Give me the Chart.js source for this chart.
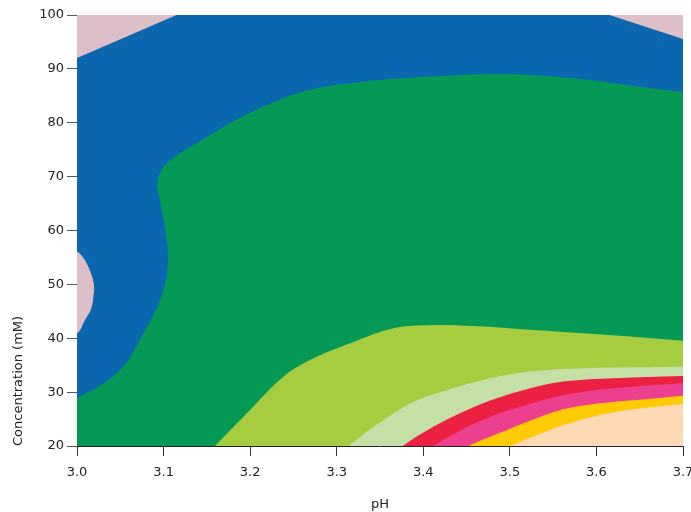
<!DOCTYPE html>
<html><head><meta charset="utf-8">
<script src="https://cdn.jsdelivr.net/npm/chart.js@4.4.1/dist/chart.umd.min.js"></script>
<style>html,body{margin:0;padding:0;background:#fff}#wrap{width:691px;height:512px;position:relative}</style>
</head><body><div id="wrap"><canvas id="c"></canvas></div>
<script>
// axis ticks and titles
const xTicks = [3.0, 3.1, 3.2, 3.3, 3.4, 3.5, 3.6, 3.7];
const xTickLabels = ['3.0', '3.1', '3.2', '3.3', '3.4', '3.5', '3.6', '3.7'];
const yTicks = [20, 30, 40, 50, 60, 70, 80, 90, 100];
const yTickLabels = ['20', '30', '40', '50', '60', '70', '80', '90', '100'];
const xTitle = 'pH';
const yTitle = 'Concentration (mM)';

// contour band boundaries (pH, concentration mM)
const pinkTopPH   = [3.0, 3.7];
const pinkTopConc = [100, 100];

const blueTopPH   = [3.0, 3.115, 3.615, 3.7];
const blueTopConc = [92.0, 100, 100, 95.55];

const pinkBlobPH   = [2.97, 3.0, 3.0058, 3.013, 3.0193, 3.0188, 3.0158, 3.0092, 3.0, 2.97];
const pinkBlobConc = [58.0, 56.07, 55.27, 53.28, 50.2, 47.6, 45.24, 43.39, 40.92, 39.0];

const greenPH   = [2.97, 3.0, 3.0497, 3.0766, 3.0959, 3.1048, 3.1025, 3.0959, 3.0925, 3.0959, 3.1036, 3.119, 3.1383, 3.1767, 3.2152, 3.2653, 3.3307, 3.4193, 3.4964, 3.5733, 3.6504, 3.7, 3.75, 3.75, 2.95, 2.95];
const greenConc = [27.0, 28.85, 34.11, 40.92, 47.10, 53.28, 59.48, 65.66, 68.2, 70.61, 72.47, 74.33, 76.19, 79.90, 82.98, 85.95, 87.62, 88.68, 89.05, 88.25, 86.69, 85.7, 84.7, 10, 10, 26];

const yellowGreenPH   = [3.142, 3.1594, 3.1998, 3.2383, 3.2691, 3.3154, 3.3654, 3.4116, 3.4578, 3.5271, 3.6426, 3.7];
const yellowGreenConc = [17.2, 20, 26.68, 32.86, 35.96, 39.06, 41.85, 42.46, 42.27, 41.53, 40.29, 39.55];

const lightGreenPH   = [3.295, 3.3134, 3.352, 3.39, 3.43, 3.4655, 3.5, 3.535, 3.5657, 3.62, 3.7];
const lightGreenConc = [17.5, 20, 24.6, 28.3, 30.5, 32.1, 33.3, 34.0, 34.3, 34.55, 34.72];

const redPH   = [3.355, 3.3762, 3.41, 3.4462, 3.4848, 3.5271, 3.5637, 3.6195, 3.7];
const redConc = [17.0, 20, 23.45, 26.37, 28.85, 30.85, 32.0, 32.57, 33.0];

const magentaPH   = [3.39, 3.4116, 3.448, 3.4848, 3.5233, 3.5637, 3.6195, 3.7];
const magentaConc = [17.5, 20, 23.3, 25.9, 27.8, 29.5, 30.71, 31.7];

const yellowPH   = [3.43, 3.452, 3.488, 3.5233, 3.5617, 3.6041, 3.65, 3.7];
const yellowConc = [18.0, 20, 22.4, 24.7, 26.8, 27.93, 28.6, 29.34];

const peachPH   = [3.48, 3.501, 3.5233, 3.5464, 3.5617, 3.6041, 3.6426, 3.7];
const peachConc = [18.5, 20, 21.54, 22.97, 23.9, 25.75, 26.81, 27.8];

const FONT = {family: 'DejaVu Sans', size: 13};
const TXT = '#222';

function pts(xs, ys) { return xs.map((x, i) => ({x: x, y: ys[i]})); }
function band(xs, ys, color, order, fill, tension) {
  return {
    type: 'line', data: pts(xs, ys), backgroundColor: color, borderWidth: 0, borderColor: 'rgba(0,0,0,0)',
    pointRadius: 0, pointHoverRadius: 0, fill: fill, order: order,
    tension: tension, cubicInterpolationMode: 'default', capBezierPoints: false
  };
}

const datasets = [
  band(pinkTopPH, pinkTopConc, '#DFBFC7', 10, 'start', 0),
  band(blueTopPH, blueTopConc, '#0A67AF', 9, 'start', 0),
  band(pinkBlobPH, pinkBlobConc, '#DFBFC7', 8, 'shape', 0.4),
  band(greenPH, greenConc, '#059955', 7, 'shape', 0.4),
  band(yellowGreenPH, yellowGreenConc, '#A6CD3F', 6, 'start', 0.35),
  band(lightGreenPH, lightGreenConc, '#C4E0A6', 5, 'start', 0.35),
  band(redPH, redConc, '#EC2040', 4, 'start', 0.35),
  band(magentaPH, magentaConc, '#EC3F8F', 3, 'start', 0.35),
  band(yellowPH, yellowConc, '#FFCB05', 2, 'start', 0.35),
  band(peachPH, peachConc, '#FDD9B5', 1, 'start', 0.35)
];

new Chart(document.getElementById('c'), {
  type: 'line',
  data: {datasets: datasets},
  options: {
    responsive: true, maintainAspectRatio: false, animation: false,
    layout: {padding: {left: 0, right: 8, top: 15, bottom: 0}},
    plugins: {legend: {display: false}, tooltip: {enabled: false}},
    events: [],
    scales: {
      x: {
        type: 'linear', min: 3.0, max: 3.7,
        afterBuildTicks: s => { s.ticks = xTicks.map(v => ({value: v})); },
        afterFit: s => { s.height = 66; s.paddingLeft = 0; s.paddingRight = 0; },
        ticks: {font: FONT, color: TXT, padding: 9, autoSkip: false, maxRotation: 0,
                callback: (v, i) => xTickLabels[i]},
        grid: {drawOnChartArea: false, drawTicks: true, tickLength: 10, tickColor: '#333', color: '#333'},
        border: {display: true, color: '#222', width: 1, z: 1},
        title: {display: true, text: xTitle, font: FONT, color: TXT, padding: {top: 0, bottom: 0}}
      },
      y: {
        type: 'linear', min: 20, max: 100, position: 'left',
        afterBuildTicks: s => { s.ticks = yTicks.map(v => ({value: v})); },
        afterFit: s => { s.width = 77; s.paddingTop = 0; s.paddingBottom = 0; },
        ticks: {font: FONT, color: TXT, padding: 3, autoSkip: false,
                callback: (v, i) => yTickLabels[i]},
        grid: {drawOnChartArea: false, drawTicks: true, tickLength: 10, tickColor: '#555', color: '#555'},
        border: {display: false},
        title: {display: true, text: yTitle, font: FONT, color: TXT, align: 'start', padding: {top: 11, bottom: 0}}
      }
    }
  }
});
</script>
</body></html>
